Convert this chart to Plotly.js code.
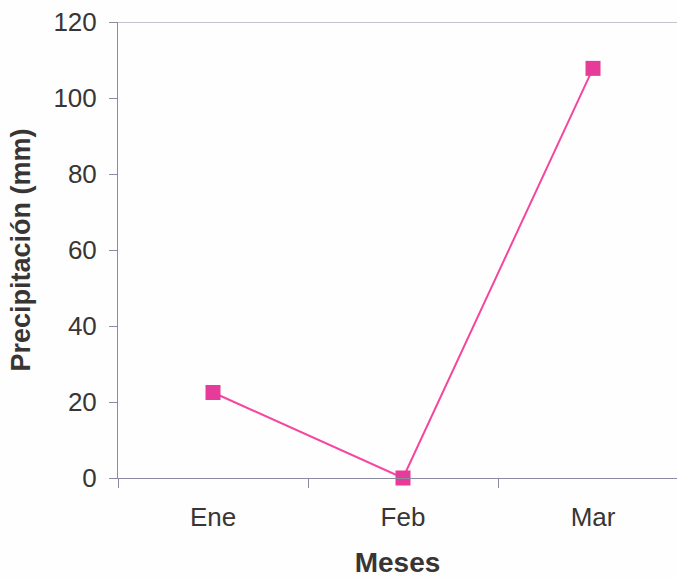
<!DOCTYPE html>
<html>
<head>
<meta charset="utf-8">
<script src="https://cdn.plot.ly/plotly-3.0.1.min.js"></script>
<style>html,body{margin:0;padding:0;background:#fefefe;}#chart{width:677px;height:578px;}</style>
</head>
<body>
<div id="chart"></div>
<script>
const months = ["Ene", "Feb", "Mar"];
const precipitation = [22.5, 0, 107.8];
const yTicks = [0, 20, 40, 60, 80, 100, 120];

const trace = {
  x: months,
  y: precipitation,
  type: "scatter",
  mode: "lines+markers",
  line: {color: "#f5469e", width: 2},
  marker: {symbol: "square", size: 15, color: "#e63b98"},
  cliponaxis: false
};

const layout = {
  width: 677,
  height: 578,
  margin: {l: 118, r: 0, t: 22, b: 100},
  paper_bgcolor: "#fefefe",
  plot_bgcolor: "#fefefe",
  showlegend: false,
  font: {family: "Liberation Sans, Arial, sans-serif", color: "#3a3535"},
  xaxis: {
    type: "category",
    range: [-0.5, 2.442],
    tickson: "boundaries",
    ticks: "outside",
    ticklen: 9,
    tickcolor: "#8a8aa0",
    showline: true,
    linecolor: "#8a8aa0",
    linewidth: 1,
    showgrid: false,
    zeroline: false,
    tickfont: {size: 26},
    ticklabelstandoff: 16,
    title: {text: "Meses", font: {size: 28, weight: "bold"}, standoff: 24}
  },
  yaxis: {
    range: [0, 120],
    tickvals: yTicks,
    ticks: "outside",
    ticklen: 8,
    tickcolor: "#8a8aa0",
    showline: true,
    linecolor: "#8a8aa0",
    linewidth: 1,
    showgrid: false,
    zeroline: false,
    tickfont: {size: 26},
    ticklabelstandoff: 7,
    title: {text: "Precipitación (mm)", font: {size: 27, weight: "bold"}, standoff: 14}
  },
  shapes: [{
    type: "line", xref: "paper", yref: "y", x0: 0, x1: 1, y0: 120, y1: 120,
    line: {color: "#8a8aa0", width: 1}
  }]
};

Plotly.newPlot("chart", [trace], layout, {displayModeBar: false, staticPlot: true});
</script>
</body>
</html>
